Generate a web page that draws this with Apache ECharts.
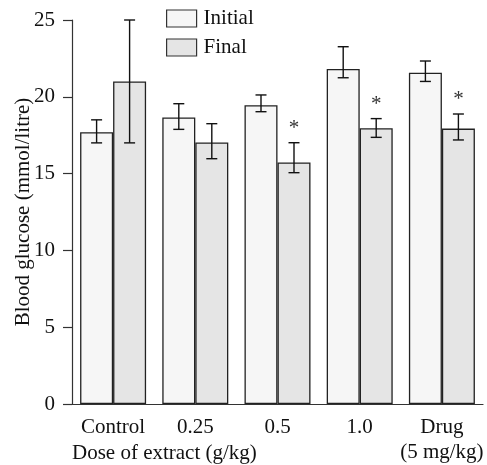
<!DOCTYPE html>
<html>
<head>
<meta charset="utf-8">
<style>
  html, body { margin: 0; padding: 0; background: #fff; }
  #chart { width: 487px; height: 465px; }
</style>
<script src="https://cdn.jsdelivr.net/npm/echarts@6/dist/echarts.min.js"></script>
</head>
<body>
<div id="chart"></div>
<script>
// 数据
var categories = ["Control", "0.25", "0.5", "1.0", "Drug\n(5 mg/kg)"];
var initialMean = [17.7, 18.66, 19.45, 21.81, 21.57];
var initialHigh = [18.5, 19.55, 20.12, 23.26, 22.33];
var initialLow = [17.0, 17.88, 19.03, 21.24, 21.0];
var finalMean = [21.0, 17.03, 15.73, 17.95, 17.93];
var finalHigh = [25.0, 18.25, 17.01, 18.58, 18.88];
var finalLow = [17.0, 15.97, 15.06, 17.36, 17.19];
var finalSig = [false, false, true, true, true];
var yTicks = [0, 5, 10, 15, 20, 25];

var font = "'Liberation Serif', 'DejaVu Serif', serif";
var fs = 21;
var barW = 33;

// 误差线 + 星号
function errorSeries(name, high, low, sig, side) {
  var data = high.map(function (h, i) {
    return [i, h, low[i], sig ? (sig[i] ? 1 : 0) : 0];
  });
  return {
    name: name + "-err",
    type: "custom",
    silent: true,
    z: 5,
    data: data,
    encode: { x: 0, y: [1, 2] },
    renderItem: function (params, api) {
      var idx = api.value(0);
      var top = api.coord([idx, api.value(1)]);
      var bot = api.coord([idx, api.value(2)]);
      var x = top[0] + side * barW / 2;
      var cap = 5.5;
      var lineStyle = { stroke: "#111", lineWidth: 1.4 };
      var children = [
        { type: "line", shape: { x1: x, y1: top[1], x2: x, y2: bot[1] }, style: lineStyle },
        { type: "line", shape: { x1: x - cap, y1: top[1], x2: x + cap, y2: top[1] }, style: lineStyle },
        { type: "line", shape: { x1: x - cap, y1: bot[1], x2: x + cap, y2: bot[1] }, style: lineStyle }
      ];
      if (api.value(3)) {
        children.push({
          type: "text",
          x: x,
          y: top[1] - 4,
          style: {
            text: "*",
            fill: "#333",
            font: fs + "px " + font,
            align: "center",
            verticalAlign: "bottom"
          }
        });
      }
      return { type: "group", children: children };
    }
  };
}

var chart = echarts.init(document.getElementById("chart"), null, { renderer: "canvas" });
var option = {
  animation: false,
  textStyle: { fontFamily: font },
  title: {
    text: "Dose of extract (g/kg)",
    left: 72,
    top: 443,
    padding: 0,
    textStyle: { fontFamily: font, fontSize: fs, fontWeight: "normal", color: "#111" }
  },
  legend: {
    orient: "vertical",
    left: 166,
    top: 8,
    padding: 0,
    itemWidth: 30,
    itemHeight: 17,
    itemGap: 8,
    icon: "rect",
    itemStyle: { borderWidth: 1.2, borderColor: "#333" },
    textStyle: { fontFamily: font, fontSize: fs, color: "#111", padding: [0, 0, 0, 2] },
    data: ["Initial", "Final"]
  },
  grid: { left: 72, right: 4, top: 20, bottom: 61, containLabel: false, outerBoundsMode: "none" },
  xAxis: {
    type: "category",
    data: categories,
    axisLine: { lineStyle: { color: "#333", width: 1.2 } },
    axisTick: {
      length: 9,
      lineStyle: { color: "#333", width: 1.2 },
      interval: function (i) { return i > 0; }
    },
    axisLabel: {
      interval: 0,
      margin: 11,
      fontFamily: font,
      fontSize: fs,
      color: "#111",
      lineHeight: 25
    }
  },
  yAxis: {
    type: "value",
    min: 0,
    max: 25,
    interval: 5,
    name: "Blood glucose (mmol/litre)",
    nameLocation: "middle",
    nameGap: 38,
    nameMoveOverlap: false,
    nameTextStyle: { fontFamily: font, fontSize: fs, color: "#111" },
    axisLine: { show: true, lineStyle: { color: "#333", width: 1.2 } },
    axisTick: { show: true, length: 9, lineStyle: { color: "#333", width: 1.2 } },
    axisLabel: {
      margin: 17,
      fontFamily: font,
      fontSize: fs,
      color: "#111",
      formatter: function (v) { return yTicks.indexOf(v) >= 0 ? String(v) : ""; }
    },
    splitLine: { show: false }
  },
  series: [
    {
      name: "Initial",
      type: "bar",
      barWidth: barW,
      barGap: "0%",
      data: initialMean,
      itemStyle: { color: "#f6f6f6", borderColor: "#222", borderWidth: 1.3 }
    },
    {
      name: "Final",
      type: "bar",
      barWidth: barW,
      barGap: "0%",
      data: finalMean,
      itemStyle: { color: "#e5e5e5", borderColor: "#222", borderWidth: 1.3 }
    },
    errorSeries("Initial", initialHigh, initialLow, null, -1),
    errorSeries("Final", finalHigh, finalLow, finalSig, 1)
  ]
};
chart.setOption(option);
</script>
</body>
</html>
